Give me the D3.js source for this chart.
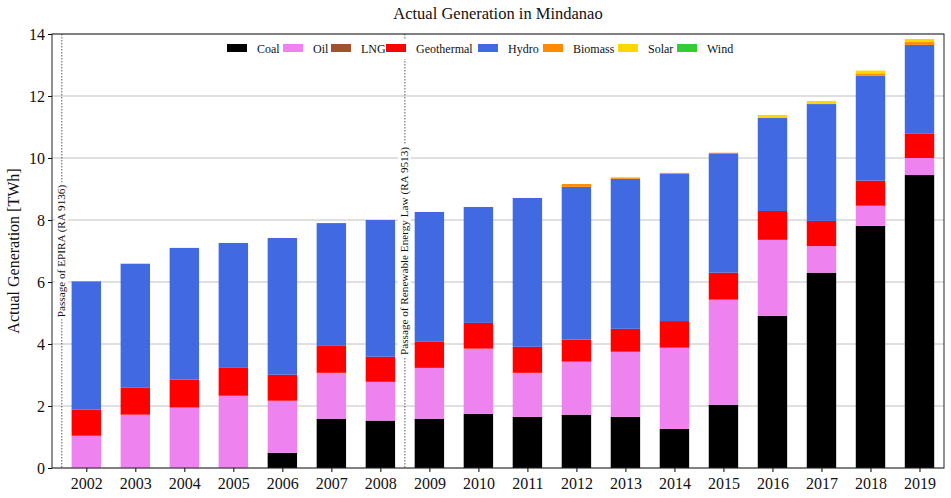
<!DOCTYPE html>
<html><head><meta charset="utf-8">
<script src="https://cdn.jsdelivr.net/npm/d3@7"></script>
<style>body{margin:0;background:#fff}svg{display:block}text{font-family:"Liberation Serif",serif}</style>
</head><body><svg id="c" width="951" height="498"></svg>
<script>
const years = ["2002","2003","2004","2005","2006","2007","2008","2009","2010","2011","2012","2013","2014","2015","2016","2017","2018","2019"];
const coal = [0,0,0,0,0.49,1.59,1.53,1.59,1.75,1.65,1.72,1.65,1.26,2.04,4.91,6.30,7.81,9.45];
const oil = [1.04,1.72,1.95,2.33,1.68,1.48,1.25,1.64,2.10,1.42,1.71,2.10,2.62,3.39,2.45,0.86,0.65,0.55];
const lng = [0,0,0,0,0,0,0,0,0,0,0,0,0,0,0,0,0,0];
const geothermal = [0.84,0.88,0.90,0.90,0.84,0.87,0.81,0.84,0.83,0.84,0.71,0.74,0.86,0.87,0.93,0.81,0.81,0.78];
const hydro = [4.14,3.99,4.25,4.03,4.41,3.96,4.41,4.19,3.74,4.80,4.93,4.84,4.75,3.85,3.00,3.77,3.39,2.87];
const biomass = [0,0,0,0,0,0,0,0,0,0,0.09,0.03,0.03,0.02,0,0,0.07,0.09];
const solar = [0,0,0,0,0,0,0,0,0,0,0,0.03,0,0,0.10,0.10,0.09,0.10];
const wind = [0,0,0,0,0,0,0,0,0,0,0,0,0,0,0,0,0,0];
const seriesNames = ["Coal","Oil","LNG","Geothermal","Hydro","Biomass","Solar","Wind"];
const seriesData = [coal,oil,lng,geothermal,hydro,biomass,solar,wind];
const colors = ["#000000","#ee82ee","#a0522d","#ff0000","#4169e1","#ff8c00","#ffd700","#32cd32"];
const yTicks = [0,2,4,6,8,10,12,14];
const events = [{pos:-0.5,label:"Passage of EPIRA (RA 9136)"},{pos:6.5,label:"Passage of Renewable Energy Law (RA 9513)"}];

const svg = d3.select("#c");
const L=52,R=944,T=34,B=468;
const x = d3.scaleLinear().domain([-0.7,17.5]).range([L,R]);
const y = d3.scaleLinear().domain([0,14]).range([B,T]);
const bw = 0.6;

// grid
svg.append("g").selectAll("line").data(yTicks).join("line")
  .attr("x1",L).attr("x2",R).attr("y1",d=>y(d)).attr("y2",d=>y(d))
  .attr("stroke","#b0b0b0").attr("stroke-width",0.8);

// stacked bars
const rows = years.map((yr,i)=>{const o={i}; seriesNames.forEach((n,k)=>o[n]=seriesData[k][i]); return o;});
const stack = d3.stack().keys(seriesNames)(rows);
svg.append("g").selectAll("g").data(stack).join("g").attr("fill",(d,k)=>colors[k])
  .selectAll("rect").data(d=>d.filter(p=>p[1]-p[0]>0)).join("rect")
  .attr("x",d=>x(d.data.i-bw/2)).attr("width",d=>x(bw)-x(0))
  .attr("y",d=>y(d[1])).attr("height",d=>y(d[0])-y(d[1]));

// event lines
const ev = svg.append("g");
events.forEach(e=>{
  ev.append("line").attr("x1",x(e.pos)).attr("x2",x(e.pos)).attr("y1",T).attr("y2",B)
    .attr("stroke","#333").attr("stroke-width",0.8).attr("stroke-dasharray","1.5,1.5");
  const g = ev.append("g").attr("transform",`translate(${x(e.pos)-1},${y(7)}) rotate(-90)`);
  const t = g.append("text").attr("text-anchor","middle").attr("dy","0.35em")
    .attr("font-size",11.2).attr("fill","#111").text(e.label);
  const bb = t.node().getBBox();
  g.insert("rect","text").attr("x",bb.x-2).attr("y",bb.y).attr("width",bb.width+4).attr("height",bb.height).attr("fill","#fff");
});

// axes
const xa = svg.append("g").attr("transform",`translate(0,${B})`)
  .call(d3.axisBottom(x).tickValues(d3.range(years.length)).tickFormat(i=>years[i]).tickSize(4).tickSizeOuter(0));
xa.select(".domain").remove();
xa.selectAll("text").attr("font-size",16).attr("font-family","Liberation Serif").attr("fill","#111").attr("dy","0.9em");
const ya = svg.append("g").attr("transform",`translate(${L},0)`)
  .call(d3.axisLeft(y).tickValues(yTicks).tickSize(4).tickSizeOuter(0));
ya.select(".domain").remove();
ya.selectAll("text").attr("font-size",16).attr("font-family","Liberation Serif").attr("fill","#111");
svg.append("rect").attr("x",L).attr("y",T).attr("width",R-L).attr("height",B-T)
  .attr("fill","none").attr("stroke","#222").attr("stroke-width",1);

// labels
svg.append("text").attr("x",(L+R)/2).attr("y",19).attr("text-anchor","middle").attr("font-size",16.5).attr("fill","#111").text("Actual Generation in Mindanao");
svg.append("text").attr("transform",`translate(19,${(T+B)/2}) rotate(-90)`).attr("text-anchor","middle").attr("font-size",16).attr("fill","#111").text("Actual Generation [TWh]");

// legend
const legX = [227,283,331,386,478,543,618,677];
const lg = svg.append("g");
lg.append("rect").attr("x",220).attr("y",40).attr("width",557).attr("height",19).attr("fill","#fff");
seriesNames.forEach((n,k)=>{
  lg.append("rect").attr("x",legX[k]).attr("y",44).attr("width",20).attr("height",8).attr("fill",colors[k]);
  lg.append("text").attr("x",legX[k]+30).attr("y",53).attr("font-size",12).attr("fill","#111").text(n);
});
</script></body></html>
